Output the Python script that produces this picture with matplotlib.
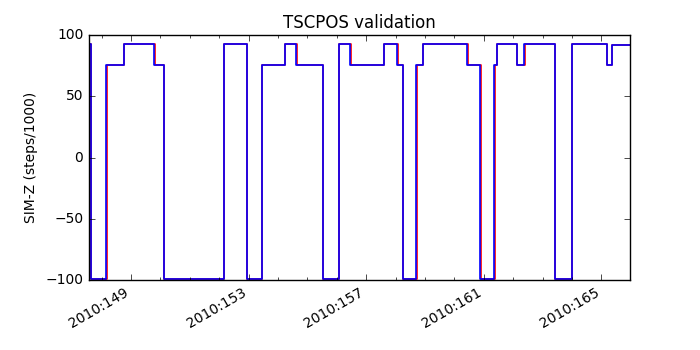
import matplotlib
matplotlib.use('Agg')
import matplotlib.pyplot as plt
from matplotlib.ticker import MultipleLocator

# Breakpoints (day of year 2010) and SIM-Z levels (steps/1000), step-post
cmd_days = [147.57, 147.63, 148.16, 148.76, 149.79, 150.12, 152.17, 152.95,
            153.44, 154.24, 154.61, 155.52, 156.07, 156.45, 157.61, 158.06,
            158.24, 158.69, 158.92, 160.44, 160.87, 161.36, 161.44, 162.12,
            162.38, 163.42, 164.01, 165.20, 165.35, 165.97]
cmd_simz = [93, -99.5, 75.5, 93, 75.5, -99.5, 93, -99.5,
            75.5, 93, 75.5, -99.5, 93, 75.5, 93, 75.5,
            -99.5, 75.5, 93, 75.5, -99.5, 75.5, 93, 75.5,
            93, -99.5, 93, 75.5, 92, 92]

# Telemetry trace lags the commanded value slightly
tlm_days = [147.57, 147.64, 148.18, 148.77, 149.81, 150.13, 152.15, 152.96,
            153.47, 154.25, 154.63, 155.54, 156.08, 156.47, 157.62, 158.07,
            158.26, 158.71, 158.94, 160.45, 160.89, 161.38, 161.46, 162.13,
            162.40, 163.43, 164.00, 165.18, 165.37, 165.97]
tlm_simz = cmd_simz

tick_days = [149, 153, 157, 161, 165]
tick_labels = ['2010:149', '2010:153', '2010:157', '2010:161', '2010:165']

plt.style.use('classic')
fig = plt.figure(figsize=(7, 3.5), dpi=100)
ax = fig.add_axes([0.127, 0.2, 0.773, 0.7])

ax.plot(tlm_days, tlm_simz, color='r', lw=1.2, drawstyle='steps-post')
ax.plot(cmd_days, cmd_simz, color='b', lw=1.2, drawstyle='steps-post')

ax.set_xlim(147.57, 165.97)
ax.set_ylim(-100, 100)
ax.set_yticks([-100, -50, 0, 50, 100])
ax.set_xticks(tick_days)
ax.set_xticklabels(tick_labels, rotation=30, ha='right')
ax.xaxis.set_minor_locator(MultipleLocator(1))
ax.tick_params(labelsize=10)

ax.set_title('TSCPOS validation', fontsize=12)
ax.set_ylabel('SIM-Z (steps/1000)', fontsize=10)

fig.savefig('out.png', dpi=100)
